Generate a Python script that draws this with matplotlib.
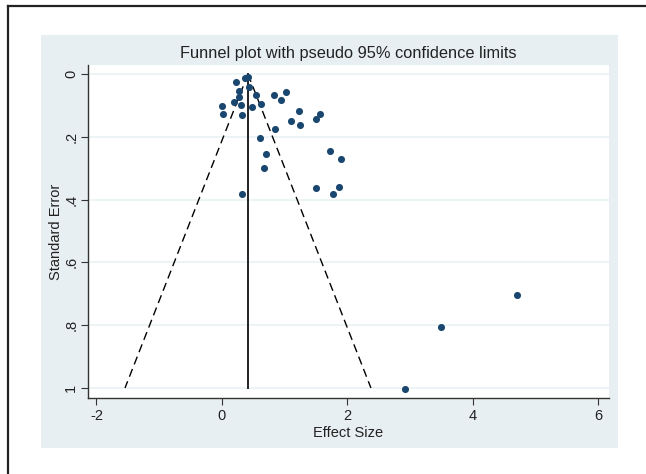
import matplotlib
matplotlib.use("Agg")
import matplotlib.pyplot as plt
from matplotlib.patches import Rectangle
from matplotlib.lines import Line2D
import numpy as np

plt.rcParams['font.family'] = ['Liberation Sans', 'DejaVu Sans']
plt.rcParams['axes.unicode_minus'] = False

# study effect sizes and standard errors
effect = [0.22, 0.37, 0.42, 0.435, 0.276, 0.537, 0.829, 1.015, 0.94, 0.19,
          0.276, 0.30, 0.63, 0.478, -0.005, 0.01, 0.32, 1.23, 1.105, 1.24,
          1.57, 1.50, 0.84, 0.60, 1.73, 1.90, 0.70, 0.67, 1.50, 1.865,
          1.77, 0.32, 4.71, 3.49, 2.92]
se = [0.026, 0.011, 0.010, 0.040, 0.054, 0.066, 0.066, 0.058, 0.083, 0.089,
      0.074, 0.097, 0.095, 0.105, 0.101, 0.128, 0.131, 0.116, 0.151, 0.161,
      0.126, 0.144, 0.176, 0.203, 0.244, 0.270, 0.254, 0.298, 0.363, 0.360,
      0.382, 0.382, 0.705, 0.806, 1.004]
pooled = 0.415
se_max = 1.0

xticks = [-2, 0, 2, 4, 6]
yticks = [0, 0.2, 0.4, 0.6, 0.8, 1]
ylabels = ['0', '.2', '.4', '.6', '.8', '1']

fig = plt.figure(figsize=(6.46, 4.74), dpi=100)
fig.patch.set_facecolor('white')

# stata-like graph region
fig.add_artist(Rectangle((41/646, 1-448/474), 577/646, 413/474,
                         transform=fig.transFigure, facecolor='#e8eff2',
                         edgecolor='none', zorder=-10))
# outer frame (left and top edges visible)
fig.add_artist(Line2D([7.5/646, 7.5/646], [0, 1-5.5/474], transform=fig.transFigure,
                      color='#222222', lw=1.6))
fig.add_artist(Line2D([7.5/646, 1], [1-5.5/474, 1-5.5/474], transform=fig.transFigure,
                      color='#222222', lw=1.6))

ax = fig.add_axes([88/646, 1-398/474, 521/646, 333/474])
ax.set_facecolor('white')

ax.set_xlim(-2.135, 6.17)
ax.set_ylim(1.032, -0.029)

for t in yticks:
    ax.axhline(t, color='#eaf2f3', lw=1.2, zorder=0)

# pseudo 95% limits
s = np.array([0, se_max])
ax.plot(pooled - 1.96*s, s, color='black', lw=1, dashes=(6, 3.5))
ax.plot(pooled + 1.96*s, s, color='black', lw=1, dashes=(6, 3.5))
ax.plot([pooled, pooled], [0, se_max], color='#222222', lw=1.4)

ax.scatter(effect, se, s=26, color='#1a476f', zorder=3, linewidths=0)

ax.set_xticks(xticks)
ax.set_yticks(yticks)
ax.set_yticklabels(ylabels, rotation=90, va='center')
ax.tick_params(axis='both', direction='out', length=5, width=0.8,
               color='#333333', labelsize=10.5, labelcolor='#222222')
ax.tick_params(axis='x', pad=3)
ax.tick_params(axis='y', pad=2)
for sp in ['top', 'right']:
    ax.spines[sp].set_visible(False)
for sp in ['left', 'bottom']:
    ax.spines[sp].set_color('#333333')
    ax.spines[sp].set_linewidth(1)

ax.set_xlabel('Effect Size', fontsize=10.5, labelpad=2, color='#222222')
ax.set_ylabel('Standard Error', fontsize=10.5, labelpad=1, color='#222222')
ax.set_title('Funnel plot with pseudo 95% confidence limits', fontsize=11.8,
             pad=5, color='#222222')

fig.savefig('out.png', dpi=100)
